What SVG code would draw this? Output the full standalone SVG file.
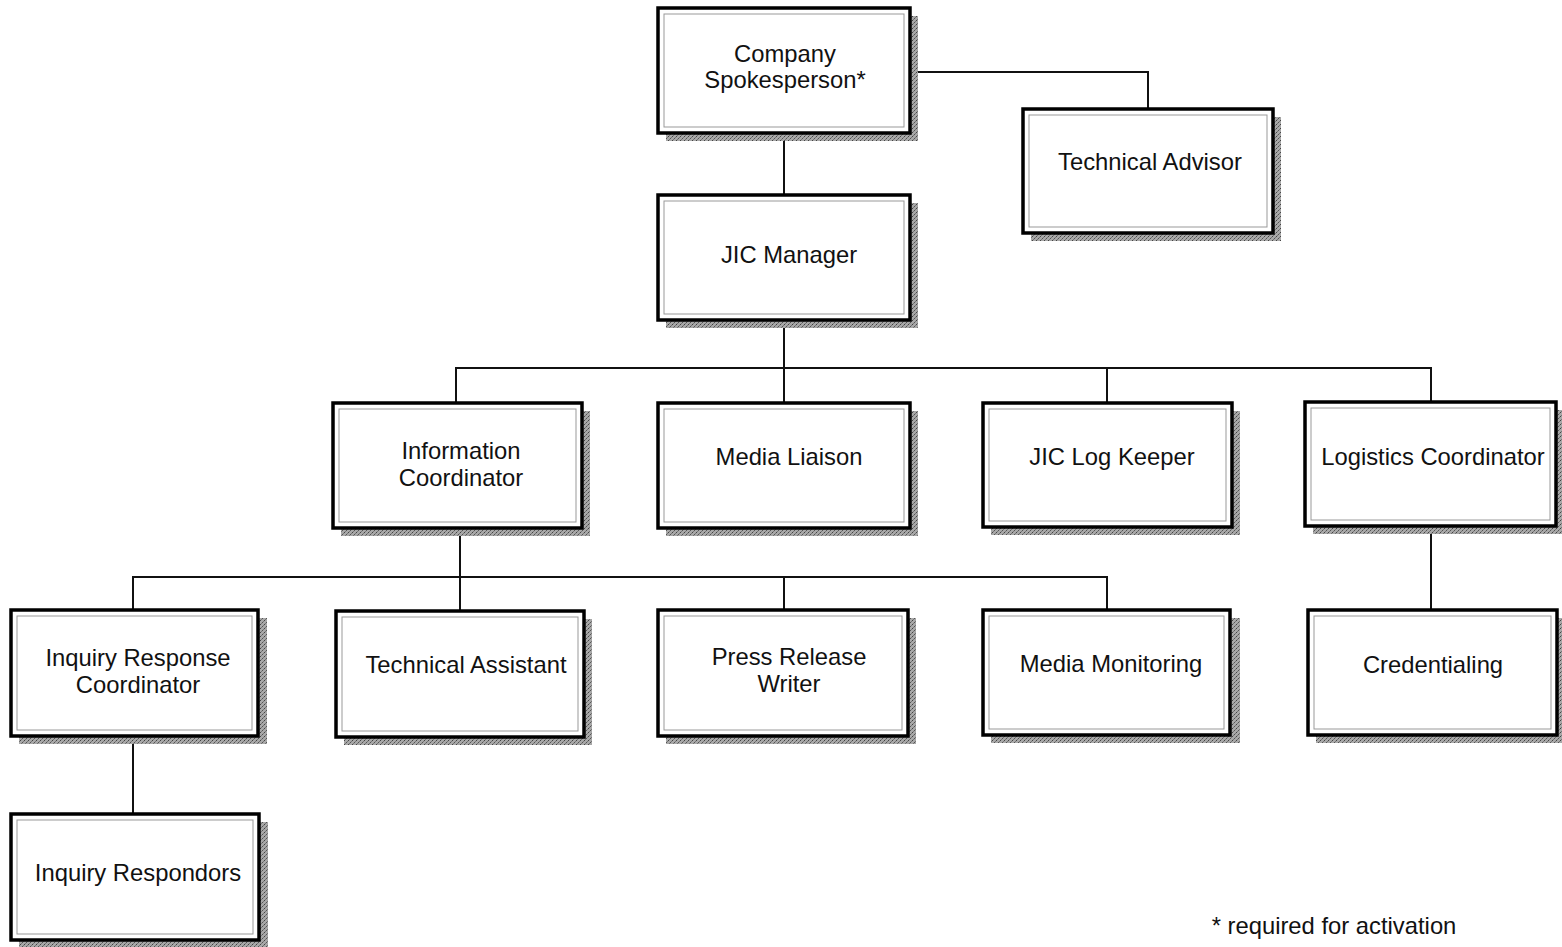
<svg xmlns="http://www.w3.org/2000/svg" width="1562" height="947" viewBox="0 0 1562 947">
<defs>
<pattern id="dots" width="4" height="4" patternUnits="userSpaceOnUse">
<rect width="4" height="4" fill="#a8a8a8"/>
<rect x="0" y="0" width="1" height="1" fill="#444"/>
<rect x="2" y="2" width="1" height="1" fill="#555"/>
<rect x="3" y="1" width="1" height="1" fill="#777"/>
<rect x="1" y="3" width="1" height="1" fill="#777"/>
</pattern>
</defs>
<style>
.sh{fill:url(#dots)}
.bx{fill:#fff;stroke:#000;stroke-width:3.5}
.in{fill:none;stroke:#999;stroke-width:1}
.t{font-family:"Liberation Sans",Arial,sans-serif;font-size:23.8px;fill:#111;text-anchor:middle}
.c{fill:none;stroke:#111;stroke-width:2}
</style>
<rect width="1562" height="947" fill="#fff"/>
<g id="connectors">
<polyline class="c" points="910,72 1148,72 1148,109"/>
<line class="c" x1="784" y1="133" x2="784" y2="195"/>
<line class="c" x1="784" y1="320" x2="784" y2="368"/>
<polyline class="c" points="456,403 456,368 1431,368 1431,402"/>
<line class="c" x1="784" y1="368" x2="784" y2="403"/>
<line class="c" x1="1107" y1="368" x2="1107" y2="403"/>
<line class="c" x1="460" y1="528" x2="460" y2="611"/>
<polyline class="c" points="133,610 133,577 1107,577 1107,610"/>
<line class="c" x1="784" y1="577" x2="784" y2="610"/>
<line class="c" x1="1431" y1="526" x2="1431" y2="610"/>
<line class="c" x1="133" y1="736" x2="133" y2="814"/>
</g>
<g id="n-spokesperson">
<rect class="sh" x="666" y="16" width="252" height="125"/>
<rect class="bx" x="658" y="8" width="252" height="125"/>
<rect class="in" x="664" y="14" width="240" height="113"/>
<text class="t" x="785" y="62">Company</text>
<text class="t" x="785" y="88">Spokesperson*</text>
</g>
<g id="n-technical-advisor">
<rect class="sh" x="1031" y="117" width="250" height="124"/>
<rect class="bx" x="1023" y="109" width="250" height="124"/>
<rect class="in" x="1029" y="115" width="238" height="112"/>
<text class="t" x="1150" y="170">Technical Advisor</text>
</g>
<g id="n-jic-manager">
<rect class="sh" x="666" y="203" width="252" height="125"/>
<rect class="bx" x="658" y="195" width="252" height="125"/>
<rect class="in" x="664" y="201" width="240" height="113"/>
<text class="t" x="789" y="263">JIC Manager</text>
</g>
<g id="n-information-coordinator">
<rect class="sh" x="341" y="411" width="249" height="125"/>
<rect class="bx" x="333" y="403" width="249" height="125"/>
<rect class="in" x="339" y="409" width="237" height="113"/>
<text class="t" x="461" y="459">Information</text>
<text class="t" x="461" y="486">Coordinator</text>
</g>
<g id="n-media-liaison">
<rect class="sh" x="666" y="411" width="252" height="125"/>
<rect class="bx" x="658" y="403" width="252" height="125"/>
<rect class="in" x="664" y="409" width="240" height="113"/>
<text class="t" x="789" y="465">Media Liaison</text>
</g>
<g id="n-jic-log-keeper">
<rect class="sh" x="991" y="411" width="249" height="124"/>
<rect class="bx" x="983" y="403" width="249" height="124"/>
<rect class="in" x="989" y="409" width="237" height="112"/>
<text class="t" x="1112" y="465">JIC Log Keeper</text>
</g>
<g id="n-logistics-coordinator">
<rect class="sh" x="1313" y="410" width="249" height="124"/>
<rect class="bx" x="1305" y="402" width="251" height="124"/>
<rect class="in" x="1311" y="408" width="239" height="112"/>
<text class="t" x="1433" y="465">Logistics Coordinator</text>
</g>
<g id="n-inquiry-response-coordinator">
<rect class="sh" x="19" y="618" width="248" height="126"/>
<rect class="bx" x="11" y="610" width="247" height="126"/>
<rect class="in" x="17" y="616" width="235" height="114"/>
<text class="t" x="138" y="666">Inquiry Response</text>
<text class="t" x="138" y="693">Coordinator</text>
</g>
<g id="n-technical-assistant">
<rect class="sh" x="344" y="619" width="248" height="126"/>
<rect class="bx" x="336" y="611" width="248" height="126"/>
<rect class="in" x="342" y="617" width="236" height="114"/>
<text class="t" x="466" y="673">Technical Assistant</text>
</g>
<g id="n-press-release-writer">
<rect class="sh" x="666" y="618" width="250" height="126"/>
<rect class="bx" x="658" y="610" width="250" height="126"/>
<rect class="in" x="664" y="616" width="238" height="114"/>
<text class="t" x="789" y="665">Press Release</text>
<text class="t" x="789" y="692">Writer</text>
</g>
<g id="n-media-monitoring">
<rect class="sh" x="991" y="618" width="249" height="125"/>
<rect class="bx" x="983" y="610" width="247" height="125"/>
<rect class="in" x="989" y="616" width="235" height="113"/>
<text class="t" x="1111" y="672">Media Monitoring</text>
</g>
<g id="n-credentialing">
<rect class="sh" x="1316" y="618" width="246" height="125"/>
<rect class="bx" x="1308" y="610" width="249" height="125"/>
<rect class="in" x="1314" y="616" width="237" height="113"/>
<text class="t" x="1433" y="673">Credentialing</text>
</g>
<g id="n-inquiry-respondors">
<rect class="sh" x="19" y="822" width="249" height="125"/>
<rect class="bx" x="11" y="814" width="248" height="126"/>
<rect class="in" x="17" y="820" width="236" height="114"/>
<text class="t" x="138" y="881">Inquiry Respondors</text>
</g>
<text class="t" x="1334" y="934">* required for activation</text>
</svg>
